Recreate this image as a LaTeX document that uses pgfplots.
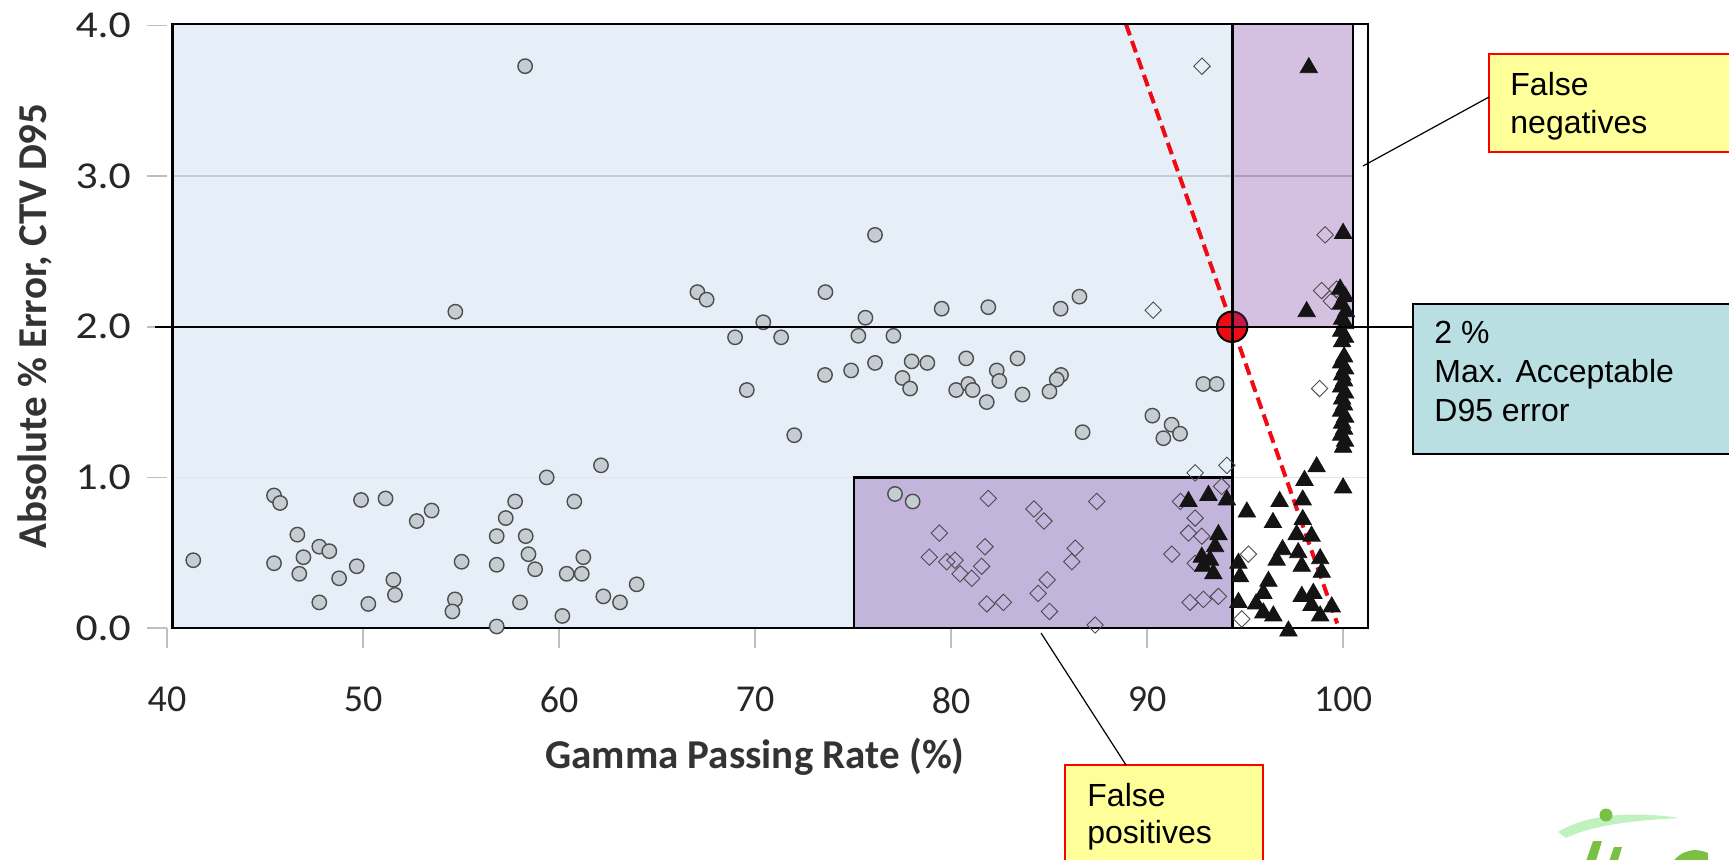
\documentclass[border=0pt]{standalone}
\usepackage{pgfplots}
\pgfplotsset{compat=1.18}
\usepackage{fontspec}
\setmainfont{Carlito}
\newfontfamily\arialfont{Liberation Sans}

\definecolor{bgblue}{HTML}{E6EFF7}
\definecolor{fpurple}{RGB}{121,58,163}
\definecolor{gridc}{HTML}{C3CCD4}
\definecolor{circfill}{HTML}{C5CDD3}
\definecolor{circdraw}{HTML}{4D4D4D}
\definecolor{noteyellow}{HTML}{FFFF99}
\definecolor{noteteal}{HTML}{B9DFE2}
\definecolor{redline}{HTML}{F00A14}
\definecolor{labelgray}{HTML}{333333}
\definecolor{logogreen}{HTML}{7AC143}

% gray circles: plans below the gamma threshold
\pgfplotstableread{
x y
41.34 0.45
45.46 0.88
45.77 0.83
45.46 0.43
46.65 0.62
46.96 0.47
46.75 0.36
47.77 0.54
48.28 0.51
47.77 0.17
48.78 0.33
49.68 0.41
49.90 0.85
51.15 0.86
50.27 0.16
51.55 0.32
51.63 0.22
52.74 0.71
53.50 0.78
55.03 0.44
54.69 0.19
54.56 0.11
56.82 0.01
56.82 0.42
56.82 0.61
57.28 0.73
57.76 0.84
58.30 0.61
58.44 0.49
58.78 0.39
58.01 0.17
59.37 1.00
60.78 0.84
60.39 0.36
61.16 0.36
61.24 0.47
60.17 0.08
62.14 1.08
62.26 0.21
63.11 0.17
63.96 0.29
58.27 3.73
54.71 2.10
76.12 2.61
67.06 2.23
67.53 2.18
73.59 2.23
79.52 2.12
81.90 2.13
85.59 2.12
86.55 2.20
70.42 2.03
75.63 2.06
68.98 1.93
71.33 1.93
75.27 1.94
77.06 1.94
76.12 1.76
77.99 1.77
78.79 1.76
80.77 1.79
83.39 1.79
73.57 1.68
74.90 1.71
77.52 1.66
77.91 1.59
80.26 1.58
80.88 1.62
81.10 1.58
82.33 1.71
82.46 1.64
81.82 1.50
83.64 1.55
85.61 1.68
85.39 1.65
85.02 1.57
69.58 1.58
72.00 1.28
86.71 1.30
92.87 1.62
93.55 1.62
90.27 1.41
91.25 1.35
91.68 1.29
90.83 1.26
77.14 0.89
78.04 0.84
}\circdata

% open diamonds
\pgfplotstableread{
x y
90.31 2.11
92.80 3.73
99.08 2.61
98.90 2.24
99.67 2.25
99.40 2.17
98.80 1.59
81.90 0.86
84.23 0.79
84.74 0.71
87.43 0.84
79.40 0.63
78.89 0.47
79.78 0.44
80.20 0.45
80.46 0.36
81.05 0.33
81.73 0.54
81.56 0.41
81.82 0.16
82.67 0.17
84.90 0.32
84.44 0.23
85.02 0.11
86.33 0.53
86.16 0.44
87.35 0.02
92.45 1.03
93.80 0.94
94.07 1.08
92.45 0.73
92.11 0.63
92.79 0.61
91.26 0.49
92.45 0.43
92.19 0.17
92.87 0.19
93.64 0.21
95.17 0.49
94.83 0.06
91.70 0.84
}\diamdata

% filled triangles
\pgfplotstableread{
x y
98.25 3.72
100.00 2.62
98.14 2.10
99.85 2.25
100.10 2.20
99.90 2.15
100.15 2.10
99.95 2.05
100.10 2.02
99.90 1.97
100.10 1.93
99.95 1.90
100.05 1.80
99.90 1.76
100.10 1.72
99.95 1.68
100.05 1.64
99.90 1.60
100.10 1.56
99.95 1.52
100.05 1.48
99.90 1.44
100.10 1.40
99.95 1.36
100.05 1.32
99.90 1.28
100.10 1.24
100.00 1.20
100.00 0.93
98.65 1.07
98.03 0.98
97.94 0.85
96.76 0.84
95.09 0.77
96.42 0.70
97.94 0.72
97.63 0.62
98.39 0.61
96.91 0.52
96.61 0.45
97.71 0.50
97.89 0.41
98.83 0.46
98.91 0.37
94.66 0.43
94.74 0.34
96.19 0.31
95.93 0.23
94.66 0.17
95.56 0.16
95.93 0.10
97.89 0.21
98.48 0.23
98.39 0.15
96.44 0.08
98.83 0.08
97.21 -0.02
99.42 0.14
92.11 0.84
93.13 0.88
94.07 0.85
93.64 0.62
93.47 0.54
92.79 0.47
93.21 0.45
93.38 0.36
92.87 0.41
}\tridata

\begin{document}
\begin{tikzpicture}
\begin{axis}[
  scale only axis,
  width=600.5pt, height=302pt,
  xmin=40, xmax=101.27,
  ymin=0, ymax=4.01,
  clip=false,
  axis line style={draw=none},
  xtick={40,50,60,70,80,90,100},
  ytick={0,1,2,3,4},
  xtick pos=bottom, ytick pos=left,
  tick align=outside,
  major tick length=10pt,
  tick style={color=black!25, line width=0.8pt},
  /pgf/number format/assume math mode=true,
  yticklabel={\pgfmathprintnumber[fixed,fixed zerofill,precision=1]{\tick}},
  tick label style={font=\fontsize{19}{22}\selectfont, color=black!85},
  xticklabel style={yshift=-16pt},
  yticklabel style={xshift=-4pt, xscale=1.15},
  label style={font=\bfseries\fontsize{20.5}{24}\selectfont, color=labelgray},
  xlabel={Gamma Passing Rate (\%)},
  ylabel={Absolute \% Error, CTV D95},
  xlabel style={at={(rel axis cs:0.4896,-0.2136)}, anchor=center},
  ylabel style={at={(rel axis cs:-0.1099,0.5)}, anchor=center},
]
  \fill[bgblue] (axis cs:40.3,0) rectangle (axis cs:94.34,4.01);
  \draw[gridc, line width=0.8pt] (axis cs:40.3,3) -- (axis cs:100.5,3);
  \draw[gridc!50, line width=0.8pt] (axis cs:40.3,1) -- (axis cs:101.27,1);

  \addplot[only marks, mark=*, mark size=3.6pt,
    mark options={draw=circdraw, fill=circfill, line width=0.7pt}] table {\circdata};
  \addplot[only marks, mark=square, mark size=2.9pt,
    mark options={rotate=45, draw=black!70, line width=0.45pt}] table {\diamdata};
  \addplot[only marks, mark=triangle*, mark size=5pt,
    mark options={fill=black!92, draw=black!92}] table {\tridata};

  \draw[redline, line width=2pt, dash pattern=on 6pt off 3pt]
    (axis cs:88.92,4.01) -- (axis cs:99.7,0.03);
  \fill[redline, draw=black, line width=1pt] (axis cs:94.34,2) circle (7.6pt);

  \fill[fpurple, opacity=0.32] (axis cs:94.34,2) rectangle (axis cs:100.5,4.01);
  \fill[fpurple, opacity=0.32] (axis cs:75.05,0) rectangle (axis cs:94.34,1);

  \draw[black, line width=0.8pt] (axis cs:94.34,0) rectangle (axis cs:101.27,4.01);
  \draw[black, line width=1.4pt] (axis cs:40.3,0) rectangle (axis cs:94.34,4.01);
  \draw[black, line width=1.2pt] (axis cs:94.34,2) rectangle (axis cs:100.5,4.01);
  \draw[black, line width=1.2pt] (axis cs:75.05,0) rectangle (axis cs:94.34,1);
  \draw[black, line width=1.2pt] (axis cs:94.34,0) -- (axis cs:101.27,0);
\end{axis}

% annotations, in pixel units of the 1729x859 frame
\begin{scope}[x=0.5pt, y=-0.5pt, shift={(-83.5pt,314pt)}]
  \path (0,0) rectangle (1729,859);
  \clip (0,0) rectangle (1729,859);

  \draw[black, line width=1pt] (155,327) -- (1413,327);

  % false negatives
  \fill[noteyellow] (1489,54) rectangle (1729,152);
  \draw[red, line width=1pt] (1729,54) -- (1489,54) -- (1489,152) -- (1729,152);
  \draw[black, line width=0.6pt] (1489,97) -- (1363,166);
  \node[anchor=base west, inner sep=0pt, font=\arialfont\fontsize{16}{19.5}\selectfont] at (1510,95) {False};
  \node[anchor=base west, inner sep=0pt, font=\arialfont\fontsize{16}{19.5}\selectfont] at (1510,133) {negatives};

  % max acceptable error
  \fill[noteteal] (1413,304) rectangle (1729,454);
  \draw[black, line width=1.2pt] (1729,304) -- (1413,304) -- (1413,454) -- (1729,454);
  \node[anchor=base west, inner sep=0pt, font=\arialfont\fontsize{16}{19.5}\selectfont] at (1434,343) {2 \%};
  \node[anchor=base west, inner sep=0pt, font=\arialfont\fontsize{16}{19.5}\selectfont] at (1434,382) {Max. Acceptable};
  \node[anchor=base west, inner sep=0pt, font=\arialfont\fontsize{16}{19.5}\selectfont] at (1434,421) {D95 error};

  % false positives
  \fill[noteyellow] (1065,765) rectangle (1263,870);
  \draw[red, line width=1pt] (1065,870) -- (1065,765) -- (1263,765) -- (1263,870);
  \draw[black, line width=0.6pt] (1041,633) -- (1126,765);
  \node[anchor=base west, inner sep=0pt, font=\arialfont\fontsize{16}{19.5}\selectfont] at (1087,806) {False};
  \node[anchor=base west, inner sep=0pt, font=\arialfont\fontsize{16}{19.5}\selectfont] at (1087,843) {positives};

  % logo, cut off at the lower edge
  \fill[black!20!green!25] (1558,832) .. controls (1590,812) and (1640,812) .. (1680,818)
    .. controls (1640,820) and (1595,824) .. (1566,838) -- cycle;
  \fill[logogreen] (1606,815) circle (6.5);
  \fill[logogreen] (1583,870) -- (1593,841) -- (1602,841) -- (1593,870) -- cycle;
  \fill[logogreen] (1606,870) -- (1614,847) -- (1622,847) -- (1615,870) -- cycle;
  \fill[logogreen] (1668,870) .. controls (1676,852) and (1692,846) .. (1708,853) -- (1708,870) -- cycle;
\end{scope}
\end{tikzpicture}
\end{document}
